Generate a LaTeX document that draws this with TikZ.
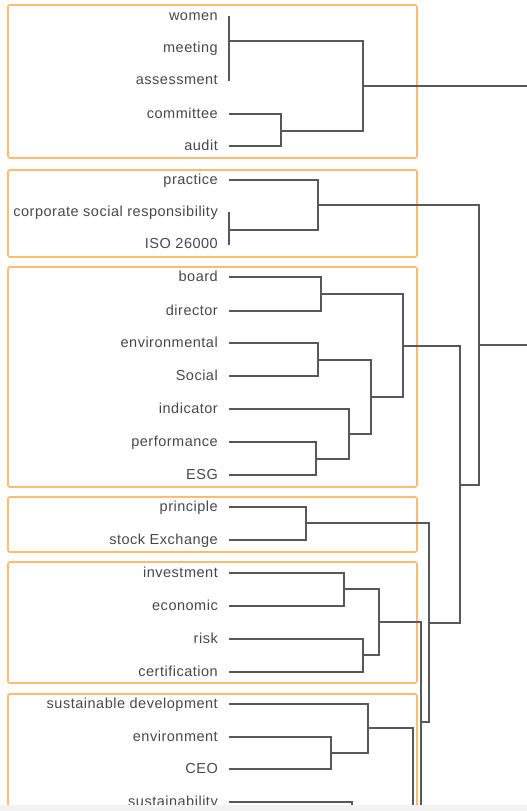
\documentclass[tikz,border=0pt]{standalone}
\usepackage{fontspec}
\setmainfont{Liberation Sans}[LetterSpace=3.5]
\definecolor{boxorange}{RGB}{255,188,112}
\definecolor{txtgray}{RGB}{72,72,72}
\definecolor{lngray}{RGB}{88,88,88}
\definecolor{bandgray}{RGB}{242,242,242}
\tikzset{
  lbl/.style={anchor=mid east, inner sep=0pt, yshift=-1.5pt, text=txtgray, font=\fontsize{14.5}{17}\selectfont},
  tree/.style={draw=lngray, line width=1.3pt, line cap=butt, line join=miter},
  grp/.style={draw=boxorange, line width=1.6pt, rounded corners=1.5pt}
}
\begin{document}
\begin{tikzpicture}[x=1pt,y=-1pt]
\useasboundingbox (0,0) rectangle (527,811);
\begin{scope}
\clip (0,0) rectangle (527,811);
% group boxes
\draw[grp] (8,5) rectangle (417,158);
\draw[grp] (8,170) rectangle (417,257);
\draw[grp] (8,267) rectangle (417,487);
\draw[grp] (8,497) rectangle (417,552);
\draw[grp] (8,562) rectangle (417,683);
\draw[grp] (8,694) rectangle (417,830);
% labels
\node[lbl] (women) at (218,16) {women};
\node[lbl] (meeting) at (218,48) {meeting};
\node[lbl] (assessment) at (218,80) {assessment};
\node[lbl] (committee) at (218,114) {committee};
\node[lbl] (audit) at (218,146) {audit};
\node[lbl] (practice) at (218,180) {practice};
\node[lbl] (csr) at (218,212) {corporate social responsibility};
\node[lbl] (iso) at (218,244) {ISO 26000};
\node[lbl] (board) at (218,277) {board};
\node[lbl] (director) at (218,311) {director};
\node[lbl] (envl) at (218,343) {environmental};
\node[lbl] (social) at (218,376) {Social};
\node[lbl] (indicator) at (218,409) {indicator};
\node[lbl] (performance) at (218,442) {performance};
\node[lbl] (esg) at (218,475) {ESG};
\node[lbl] (principle) at (218,507) {principle};
\node[lbl] (stock) at (218,540) {stock Exchange};
\node[lbl] (investment) at (218,573) {investment};
\node[lbl] (economic) at (218,606) {economic};
\node[lbl] (risk) at (218,639) {risk};
\node[lbl] (certification) at (218,672) {certification};
\node[lbl] (sd) at (218,704) {sustainable development};
\node[lbl] (environment) at (218,737) {environment};
\node[lbl] (ceo) at (218,769) {CEO};
\node[lbl] (sustainability) at (218,802) {sustainability};
% leaf points
\foreach \n/\y in {women/16,meeting/48,assessment/81,committee/114,audit/146,practice/180,csr/212,iso/245,board/277,director/311,envl/343,social/376,indicator/409,performance/442,esg/475,principle/507,stock/540,investment/573,economic/606,risk/639,certification/672,sd/704,environment/737,ceo/769,sustainability/802}
  \coordinate (p-\n) at (229,\y);
% junction coordinates
\coordinate (j1) at (229,41);
\coordinate (j2) at (281,131);
\coordinate (j3) at (363,86);
\coordinate (j4a) at (229,230);
\coordinate (j4) at (318,205);
\coordinate (j5) at (321,294);
\coordinate (j6) at (318,360);
\coordinate (j7) at (316,459);
\coordinate (j8) at (349,434);
\coordinate (j9) at (371,397);
\coordinate (j10) at (403,346);
\coordinate (j11) at (460,485);
\coordinate (j12) at (479,345);
\coordinate (j13) at (306,523);
\coordinate (j14) at (429,623);
\coordinate (j15) at (344,589);
\coordinate (j16) at (363,655);
\coordinate (j17) at (379,622);
\coordinate (j18) at (421,722);
\coordinate (j19) at (331,753);
\coordinate (j20) at (368,728);
\coordinate (j21) at (413,828);
\coordinate (j22) at (352,830);
\coordinate (root) at (530,215);
% cluster 1
\draw[tree] (p-women) -- (p-assessment);
\draw[tree] (j1) -| (j3);
\draw[tree] (p-committee) -| (j2) |- (p-audit);
\draw[tree] (j2) -| (j3);
\draw[tree] (j3) -- (j3 -| root);
% cluster 2
\draw[tree] (p-csr) -- (p-iso);
\draw[tree] (p-practice) -| (j4) |- (j4a);
\draw[tree] (j4) -| (j12);
% cluster 3
\draw[tree] (p-board) -| (j5) |- (p-director);
\draw[tree] (p-envl) -| (j6) |- (p-social);
\draw[tree] (p-performance) -| (j7) |- (p-esg);
\draw[tree] (p-indicator) -| (j8) |- (j7);
\draw[tree] (j6) -| (j9) |- (j8);
\draw[tree] (j5) -| (j10) |- (j9);
\draw[tree] (j10) -| (j11);
\draw[tree] (j11) -| (j12);
\draw[tree] (j12) -- (j12 -| root);
% cluster 4
\draw[tree] (p-principle) -| (j13) |- (p-stock);
\draw[tree] (j13) -| (j14) |- (j18);
\draw[tree] (j14) -| (j11);
% cluster 5
\draw[tree] (p-investment) -| (j15) |- (p-economic);
\draw[tree] (p-risk) -| (j16) |- (p-certification);
\draw[tree] (j15) -| (j17) |- (j16);
\draw[tree] (j17) -| (j18);
\draw[tree] (j18) -- (421,830);
% cluster 6
\draw[tree] (p-environment) -| (j19) |- (p-ceo);
\draw[tree] (p-sd) -| (j20) |- (j19);
\draw[tree] (j20) -| (j21);
\draw[tree] (p-sustainability) -| (j22);
% bottom band
\fill[bandgray] (0,805) rectangle (527,811);
\end{scope}
\end{tikzpicture}
\end{document}
